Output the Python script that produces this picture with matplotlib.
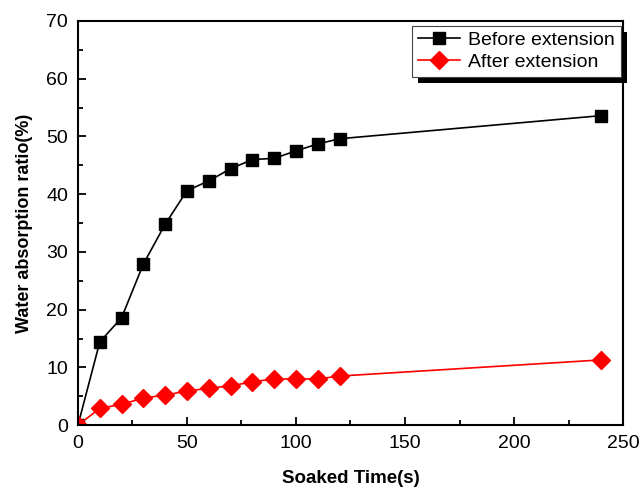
import matplotlib.pyplot as plt
from matplotlib.ticker import MultipleLocator
from matplotlib.patches import Rectangle

plt.rcParams['font.family'] = ['Liberation Sans', 'DejaVu Sans']

# Data
soak_time = [0, 10, 20, 30, 40, 50, 60, 70, 80, 90, 100, 110, 120, 240]
before_ext = [0, 14.4, 18.6, 27.9, 34.8, 40.6, 42.3, 44.4, 46.0, 46.2, 47.5, 48.7, 49.6, 53.6]
after_ext = [0, 2.9, 3.6, 4.7, 5.2, 5.9, 6.4, 6.8, 7.5, 8.0, 8.0, 8.0, 8.5, 11.3]

fig = plt.figure(figsize=(6.39, 4.87), dpi=100)
ax = fig.add_axes([0.122, 0.127, 0.853, 0.830])

ax.plot(soak_time, before_ext, color='black', marker='s', markersize=9,
        linewidth=1.2, label='Before extension')
ax.plot(soak_time, after_ext, color='red', marker='D', markersize=9,
        linewidth=1.2, label='After extension')

ax.set_xlim(0, 250)
ax.set_ylim(0, 70)
ax.xaxis.set_major_locator(MultipleLocator(50))
ax.xaxis.set_minor_locator(MultipleLocator(25))
ax.yaxis.set_major_locator(MultipleLocator(10))
ax.yaxis.set_minor_locator(MultipleLocator(5))
ax.tick_params(which='both', direction='in', width=1.3, labelsize=14)
ax.tick_params(which='major', length=6, pad=7)
ax.tick_params(which='minor', length=3.5)
for sp in ax.spines.values():
    sp.set_linewidth(1.5)

ax.set_xlabel('Soaked Time(s)', fontsize=13.5, fontweight='bold')
ax.set_ylabel('Water absorption ratio(%)', fontsize=13, fontweight='bold')
ax.xaxis.set_label_coords(0.5, -0.11)
ax.yaxis.set_label_coords(-0.082, 0.5)

leg = ax.legend(loc='upper right', bbox_to_anchor=(0.996, 0.988), fontsize=14,
                fancybox=False, edgecolor='#444444', framealpha=1,
                handlelength=2.2, borderpad=0.3, labelspacing=0.2,
                handletextpad=0.4, borderaxespad=0)
leg.get_frame().set_linewidth(0.8)

# black drop shadow behind the legend box, like Origin draws it
fig.canvas.draw()
bb = leg.get_window_extent()
shadow = Rectangle((bb.x0 + 6, bb.y0 - 6), bb.width, bb.height, transform=None,
                   facecolor='black', edgecolor='none', zorder=4.9, clip_on=False)
ax.add_patch(shadow)

fig.savefig('out.png', dpi=100)
